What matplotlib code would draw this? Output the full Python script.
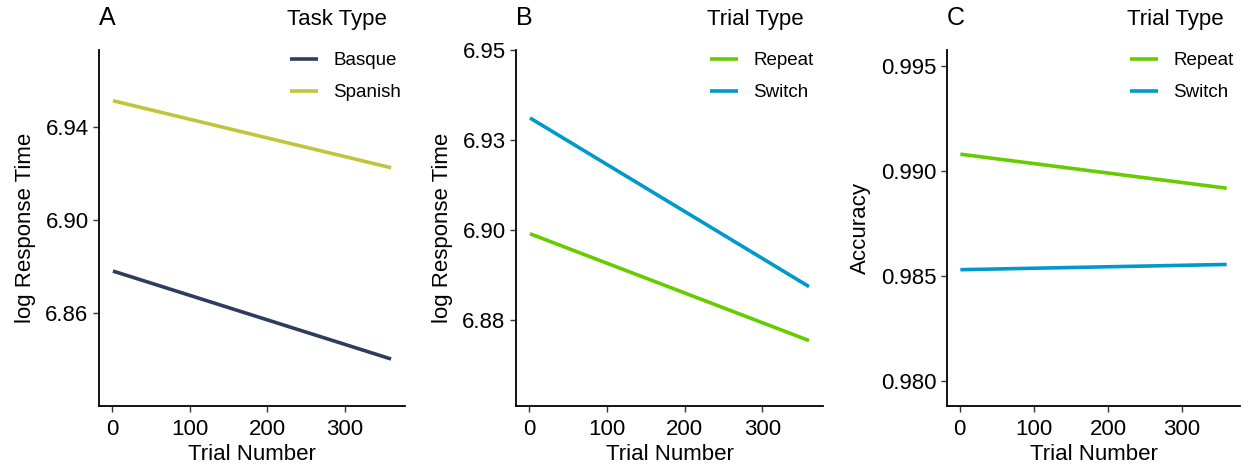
import matplotlib
matplotlib.use("Agg")
import matplotlib.pyplot as plt
from matplotlib.ticker import FixedLocator, FixedFormatter

plt.rcParams['font.family'] = ['Liberation Sans', 'DejaVu Sans']

# model predictions at first and last trial
trials = [1, 360]

task_labels = ["Basque", "Spanish"]
rt_task = {"Basque": [6.878, 6.8402], "Spanish": [6.9512, 6.9224]}

trial_labels = ["Repeat", "Switch"]
rt_trial = {"Repeat": [6.8989, 6.8692], "Switch": [6.9311, 6.8842]}
acc_trial = {"Repeat": [0.9908, 0.98918], "Switch": [0.9853, 0.98555]}

colors = {"Basque": "#2c3e5c", "Spanish": "#c4c43c",
          "Repeat": "#66cc00", "Switch": "#0099cc"}

W, H = 1252, 469
fig = plt.figure(figsize=(W / 100, H / 100), dpi=100)


def make_axes(left, right, top, bottom):
    return fig.add_axes([left / W, 1 - bottom / H, (right - left) / W, (bottom - top) / H])


def style(ax, ylim, yticks, ylabels, ylab, letter, letter_x):
    ax.set_xlim(-17, 378)
    ax.set_ylim(*ylim)
    ax.set_xticks([0, 100, 200, 300])
    ax.yaxis.set_major_locator(FixedLocator(yticks))
    ax.yaxis.set_major_formatter(FixedFormatter(ylabels))
    for s in ["top", "right"]:
        ax.spines[s].set_visible(False)
    for s in ["left", "bottom"]:
        ax.spines[s].set_linewidth(1.3)
    ax.tick_params(length=4.5, width=1.0, color="#333333", labelsize=16,
                   labelcolor="black")
    ax.tick_params(axis="x", pad=5)
    ax.tick_params(axis="y", pad=3)
    ax.set_xlabel("Trial Number", fontsize=16, labelpad=3)
    ax.set_ylabel(ylab, fontsize=16, labelpad=7)
    fig.text(letter_x / W, 1 - 18 / H, letter, fontsize=18, va="center", ha="left")


def add_legend(ax, title, x):
    fig.text(x / W, 1 - 19 / H, title, fontsize=16, va="center", ha="left")
    leg = ax.legend(loc="upper left", bbox_to_anchor=((x + 3) / W, 1 - 52 / H),
                    bbox_transform=fig.transFigure, frameon=False, fontsize=13.5,
                    handlelength=1.5, handletextpad=0.8,
                    labelspacing=0.8, borderpad=0, borderaxespad=0)
    return leg


# A: log RT by task type
axA = make_axes(99, 405, 50, 406)
for k in task_labels:
    axA.plot(trials, rt_task[k], color=colors[k], lw=2.6, label=k, solid_capstyle="butt")
style(axA, (6.82, 6.973), [6.86, 6.90, 6.94], ["6.86", "6.90", "6.94"],
      "log Response Time", "A", 99)
add_legend(axA, "Task Type", 287)

# B: log RT by trial type
axB = make_axes(516, 823, 50, 406)
for k in trial_labels:
    axB.plot(trials, rt_trial[k], color=colors[k], lw=2.6, label=k, solid_capstyle="butt")
style(axB, (6.851, 6.95), [6.875, 6.90, 6.925, 6.95], ["6.88", "6.90", "6.93", "6.95"],
      "log Response Time", "B", 516)
add_legend(axB, "Trial Type", 707)

# C: accuracy by trial type
axC = make_axes(947, 1240, 50, 406)
for k in trial_labels:
    axC.plot(trials, acc_trial[k], color=colors[k], lw=2.6, label=k, solid_capstyle="butt")
style(axC, (0.97881, 0.99576), [0.980, 0.985, 0.990, 0.995],
      ["0.980", "0.985", "0.990", "0.995"], "Accuracy", "C", 947)
add_legend(axC, "Trial Type", 1127)

fig.savefig("out.png", dpi=100, facecolor="white")
